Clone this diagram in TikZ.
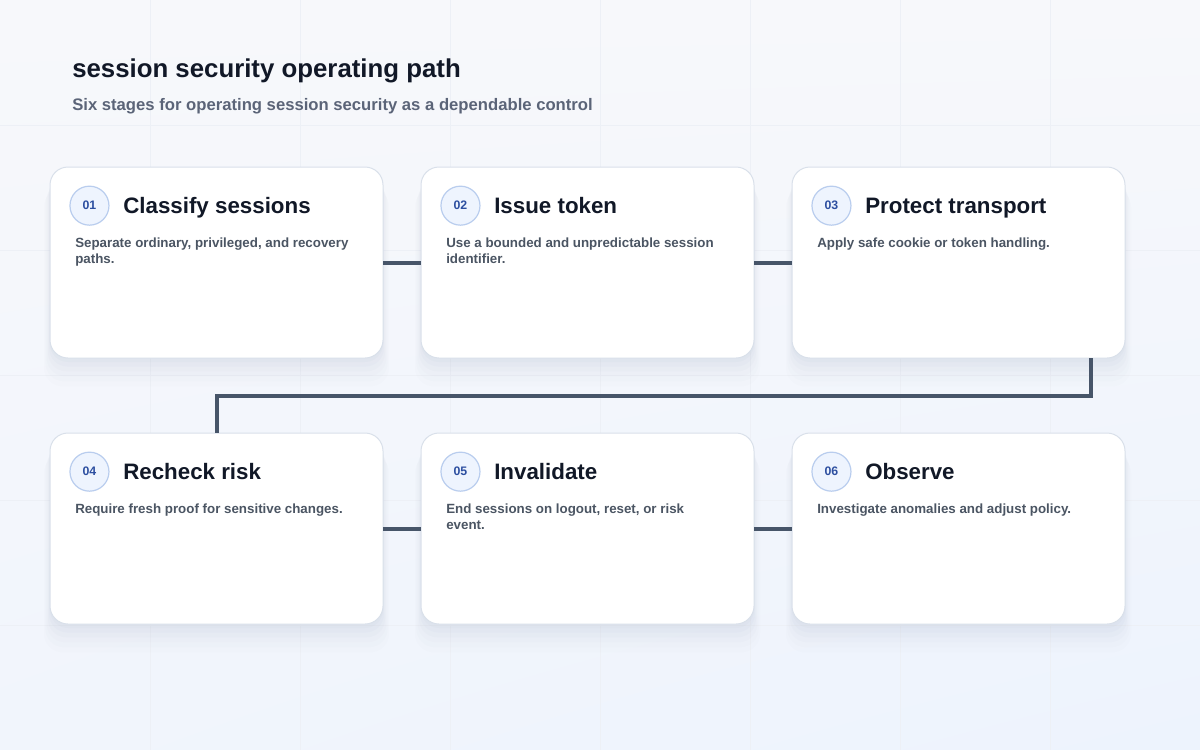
\documentclass[tikz,border=0pt]{standalone}
\usepackage{fontspec}
\setmainfont{Liberation Sans}
\usetikzlibrary{
    positioning,
    shadings,
    shadows
}
\definecolor{ink}{HTML}{111827}
\definecolor{bodytext}{HTML}{4B5563}
\definecolor{subtext}{HTML}{5B6478}
\definecolor{badgetext}{HTML}{2D4FA0}
\definecolor{badgefill}{HTML}{EEF4FE}
\definecolor{badgeline}{HTML}{B9CDEE}
\definecolor{cardline}{HTML}{D9E0EA}
\definecolor{linkcol}{HTML}{475569}
\definecolor{gridcol}{HTML}{EDF0F6}
\definecolor{shadecol}{HTML}{8A97B5}
\definecolor{bgtop}{HTML}{F7F8FB}
\definecolor{bgbottom}{HTML}{EDF3FD}
\tikzset{
    every picture/.style = {
        x = 0.75pt,
        y = -0.75pt
    },
    card/.style = {
        draw = cardline,
        fill = white,
        line width = 0.75pt,
        rounded corners = 13.5pt,
        minimum width = 249.75pt,
        minimum height = 143.25pt,
        inner sep = 0pt,
        outer sep = 0pt,
        general shadow = {fill = shadecol, opacity = 0.04, shadow yshift = -3pt},
        general shadow = {fill = shadecol, opacity = 0.035, shadow yshift = -6pt, shadow scale = 1.005},
        general shadow = {fill = shadecol, opacity = 0.03, shadow yshift = -9pt, shadow scale = 1.012},
        general shadow = {fill = shadecol, opacity = 0.025, shadow yshift = -12pt, shadow scale = 1.02},
        general shadow = {fill = shadecol, opacity = 0.02, shadow yshift = -15pt, shadow scale = 1.028},
        general shadow = {fill = shadecol, opacity = 0.015, shadow yshift = -18pt, shadow scale = 1.036}
    },
    badge/.style = {
        circle,
        draw = badgeline,
        fill = badgefill,
        line width = 0.9pt,
        minimum size = 29.25pt,
        inner sep = 0pt,
        text = badgetext,
        font = \bfseries\fontsize{9.25}{10}\selectfont
    },
    cardtitle/.style = {
        anchor = base west,
        inner sep = 0pt,
        text = ink,
        font = \bfseries\fontsize{16.75}{18}\selectfont
    },
    cardbody/.style = {
        anchor = north west,
        inner sep = 0pt,
        align = left,
        text = bodytext,
        font = \bfseries\fontsize{10}{11.5}\selectfont
    },
    link/.style = {
        draw = linkcol,
        line width = 3pt
    },
    gridline/.style = {
        draw = gridcol,
        line width = 0.6pt
    }
}
% #1 name, #2 placement, #3 number, #4 title, #5 text
\newcommand{\stagecard}[5]{%
    \node[card, #2] (#1) {};
    \node[badge] (#1-num) at ([xshift = 29.6pt, yshift = -29pt]#1.north west) {#3};
    \node[cardtitle] (#1-title) at ([xshift = 54.75pt, yshift = -34.5pt]#1.north west) {#4};
    \node[cardbody] (#1-text) at ([xshift = 18.75pt, yshift = -53.25pt]#1.north west) {#5};
}
\begin{document}
\begin{tikzpicture}
    \shade[upper left = bgtop, upper right = bgtop, lower left = bgbottom!60!bgtop, lower right = bgbottom] (0, 0) rectangle (1200, 750);
    \useasboundingbox (0, 0) rectangle (1200, 750);
    \foreach \gx in {150, 300, ..., 1050} \draw[gridline] (\gx, 0) -- (\gx, 750);
    \foreach \gy in {125, 250, ..., 625} \draw[gridline] (0, \gy) -- (1200, \gy);

    \node[anchor = base west, inner sep = 0pt, text = ink, font = \bfseries\fontsize{19.35}{21}\selectfont] (title) at (72, 77) {session security operating path};
    \node[anchor = base west, inner sep = 0pt, text = subtext, font = \bfseries\fontsize{12.5}{14}\selectfont] (subtitle) at (72, 110) {Six stages for operating session security as a dependable control};

    \stagecard{classify}{at = {(216.5, 262.5)}}{01}{Classify sessions}{Separate ordinary, privileged, and recovery\\paths.}
    \stagecard{issue}{right = 28.5pt of classify}{02}{Issue token}{Use a bounded and unpredictable session\\identifier.}
    \stagecard{protect}{right = 28.5pt of issue}{03}{Protect transport}{Apply safe cookie or token handling.}
    \stagecard{recheck}{below = 56.25pt of classify}{04}{Recheck risk}{Require fresh proof for sensitive changes.}
    \stagecard{invalidate}{right = 28.5pt of recheck}{05}{Invalidate}{End sessions on logout, reset, or risk\\event.}
    \stagecard{observe}{right = 28.5pt of invalidate}{06}{Observe}{Investigate anomalies and adjust policy.}

    \coordinate (turn) at ([xshift = 99.375pt, yshift = -28.125pt]protect.south);
    \draw[link] (classify) -- (issue);
    \draw[link] (issue) -- (protect);
    \draw[link] ([xshift = 99.375pt]protect.south) -- (turn) -| (recheck.north);
    \draw[link] (recheck) -- (invalidate);
    \draw[link] (invalidate) -- (observe);
\end{tikzpicture}
\end{document}
